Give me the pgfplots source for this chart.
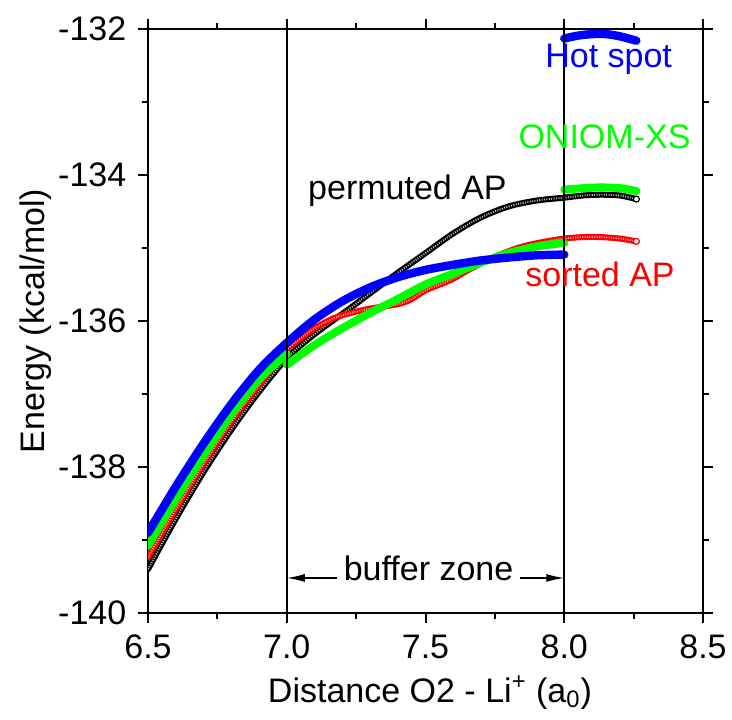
\documentclass[border=0pt]{standalone}
\usepackage{fontspec}
\setmainfont{Liberation Sans}
\usepackage{pgfplots}
\usepackage{pgfplotstable}
\pgfplotsset{compat=1.18}
\usetikzlibrary{arrows.meta}

\pgfplotstableread{
x y
6.50 -138.90
6.60 -138.27
6.70 -137.68
6.80 -137.14
6.90 -136.67
7.00 -136.30
7.10 -135.98
7.20 -135.73
7.30 -135.54
7.40 -135.40
7.50 -135.30
7.60 -135.23
7.70 -135.17
7.80 -135.13
7.90 -135.10
8.00 -135.09
}\blueleft
\pgfplotstableread{
x y
8.00 -132.13
8.05 -132.09
8.10 -132.07
8.15 -132.07
8.20 -132.10
8.26 -132.16
}\bluehot
\pgfplotstableread{
x y
6.50 -139.08
6.60 -138.44
6.70 -137.84
6.80 -137.28
6.90 -136.80
7.00 -136.45
}\greenleft
\pgfplotstableread{
x y
7.00 -136.60
7.10 -136.33
7.20 -136.10
7.30 -135.89
7.40 -135.70
7.50 -135.50
7.60 -135.35
7.70 -135.20
7.80 -135.07
7.90 -134.98
8.00 -134.93
}\greenmid
\pgfplotstableread{
x y
8.00 -134.20
8.07 -134.18
8.13 -134.17
8.20 -134.18
8.26 -134.22
}\greenright
\pgfplotstableread{
x y
6.50 -139.24
6.60 -138.58
6.70 -137.96
6.80 -137.38
6.90 -136.88
7.00 -136.40
7.05 -136.24
7.10 -136.10
7.17 -135.96
7.23 -135.89
7.30 -135.83
7.40 -135.77
7.45 -135.70
7.50 -135.58
7.59 -135.44
7.66 -135.29
7.75 -135.12
7.84 -134.99
7.92 -134.92
8.00 -134.87
8.07 -134.85
8.13 -134.85
8.20 -134.87
8.26 -134.91
}\sorted
\pgfplotstableread{
x y
6.50 -139.40
6.60 -138.71
6.70 -138.07
6.80 -137.49
6.90 -136.97
7.00 -136.51
7.10 -136.18
7.23 -135.82
7.30 -135.62
7.40 -135.34
7.50 -135.07
7.60 -134.80
7.70 -134.58
7.80 -134.43
7.90 -134.35
8.00 -134.31
8.07 -134.28
8.13 -134.27
8.20 -134.28
8.26 -134.33
}\permuted

\begin{document}
\fontsize{17}{20}\selectfont
\begin{tikzpicture}
\useasboundingbox (-74pt,-53pt) rectangle (292pt,306.5pt);
\begin{axis}[
  at={(0pt,0pt)}, anchor=south west,
  scale only axis, width=277.5pt, height=292pt,
  xmin=6.5, xmax=8.5, ymin=-140, ymax=-132,
  xtick={6.5,7.0,7.5,8.0,8.5}, ytick={-140,-138,-136,-134,-132},
  minor x tick num=1, minor y tick num=1,
  tick align=outside, major tick length=5pt, minor tick length=3pt,
  axis line style={line width=1pt},
  every tick/.style={line width=1pt, black},
  /pgf/number format/assume math mode=true,
  x tick label style={/pgf/number format/.cd, fixed, fixed zerofill, precision=1, /tikz/.cd},
  tick label style={font=\fontsize{17}{20}\selectfont},
  label style={font=\fontsize{17}{20}\selectfont},
  xlabel={Distance O2 - Li\textsuperscript{+} (a\textsubscript{0})},
  ylabel={Energy (kcal/mol)},
  xlabel style={at={(axis description cs:0.508,-0.153)}, anchor=base},
  ylabel style={at={(axis description cs:-0.186,0.5)}, anchor=base},
  clip=true,
]
% permuted AP (black open circles)
\addplot[black, line width=3.0pt, no marks, smooth, line cap=round] table {\permuted};
\addplot[white!75!black, line width=0.9pt, no marks, smooth, dash pattern=on 0.5pt off 0.7pt] table {\permuted};
\addplot[only marks, mark=*, mark size=1.5pt, mark options={fill=white, draw=black, line width=0.6pt}] coordinates {(8.26,-134.33)};
% sorted AP (red open circles)
\addplot[red, line width=3.0pt, no marks, smooth, line cap=round] table {\sorted};
\addplot[white!60!red, line width=0.9pt, no marks, smooth, dash pattern=on 0.5pt off 0.7pt] table {\sorted};
\addplot[only marks, mark=*, mark size=1.5pt, mark options={fill=white, draw=red, line width=0.6pt}] coordinates {(8.26,-134.91)};
% ONIOM-XS
\addplot[green, line width=4.0pt, no marks, smooth, line cap=round] table {\greenleft};
\addplot[green, line width=4.0pt, no marks, smooth, line cap=round] table {\greenmid};
\addplot[green, line width=4.0pt, no marks, smooth, line cap=round] table {\greenright};
% Hot spot
\addplot[blue, line width=4.2pt, no marks, smooth, line cap=round] table {\blueleft};
\addplot[blue, line width=4.2pt, no marks, smooth, line cap=round] table {\bluehot};
% buffer zone boundaries
\addplot[black, line width=0.85pt, no marks] coordinates {(7.0,-140) (7.0,-132)};
\addplot[black, line width=0.85pt, no marks] coordinates {(8.0,-140) (8.0,-132)};
% annotations
\node[blue, anchor=base, inner sep=0pt] at (axis cs:8.16,-132.53) {Hot spot};
\node[green, anchor=base, inner sep=0pt] at (axis cs:8.145,-133.63) {ONIOM-XS};
\node[black, anchor=base, inner sep=0pt] at (axis cs:7.435,-134.34) {permuted AP};
\node[red, anchor=base, inner sep=0pt] at (axis cs:8.129,-135.53) {sorted AP};
\node[black, anchor=base, inner sep=0pt] at (axis cs:7.511,-139.55) {buffer zone};
\draw[-{Latex[length=9pt,width=4pt]}, line width=0.8pt] (axis cs:7.18,-139.52) -- (axis cs:7.0,-139.52);
\draw[-{Latex[length=9pt,width=4pt]}, line width=0.8pt] (axis cs:7.84,-139.52) -- (axis cs:8.0,-139.52);
\end{axis}
\end{tikzpicture}
\end{document}
